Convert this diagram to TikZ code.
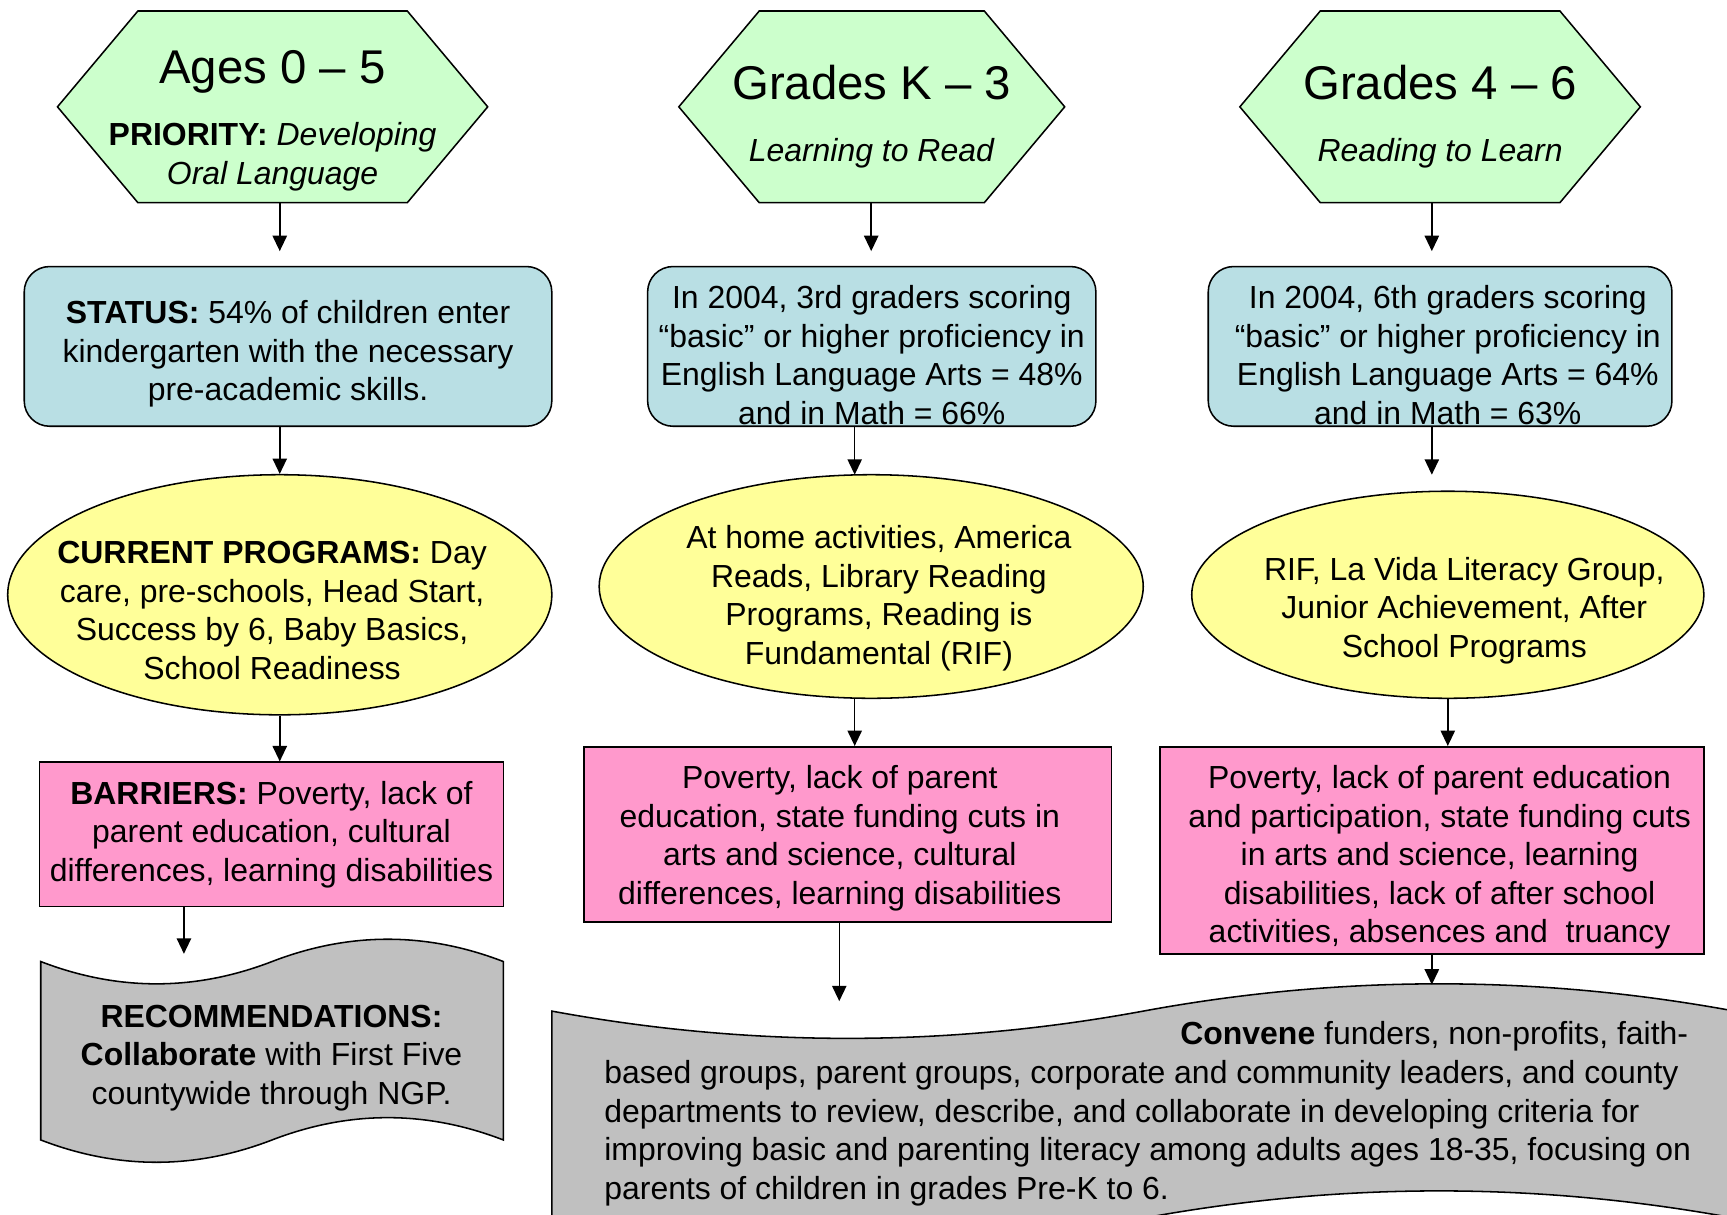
\documentclass[tikz,border=0pt]{standalone}
\usepackage{fontspec}
\setmainfont{Liberation Sans}
\usepackage{xcolor}
\usepackage{tikz}
\usetikzlibrary{shapes,arrows.meta}

\definecolor{hexgreen}{HTML}{CCFFCC}
\definecolor{statblue}{HTML}{B9DFE4}
\definecolor{progyellow}{HTML}{FFFF99}
\definecolor{barpink}{HTML}{FF99CC}
\definecolor{recgray}{HTML}{C0C0C0}

\newcommand{\lift}[1]{\rule{0pt}{#1}}
\newcommand{\nudge}[1]{\hspace*{#1}}
\newcommand{\titlefont}{\fontsize{43}{50}\selectfont}

\begin{document}
\begin{tikzpicture}[x=1pt, y=-1pt, line width=1.4pt,
    font=\fontsize{29}{35}\selectfont,
    hexbox/.style={signal, signal to=east and west, signal pointer angle=100, draw, fill=hexgreen, align=center, inner ysep=0pt, minimum height=174pt},
    statbox/.style={rectangle, draw, fill=statblue, rounded corners=23pt, align=center, inner sep=0pt, minimum height=145pt},
    progbox/.style={ellipse, draw, fill=progyellow, align=center, inner xsep=-40pt, inner ysep=-10pt},
    barbox/.style={rectangle, draw, fill=barpink, align=center, inner sep=0pt},
    wave/.style={draw, fill=recgray},
    arrow/.style={-{Triangle[length=14pt, width=13pt]}, line width=1.4pt}]

    \useasboundingbox (0,0) rectangle (1568,1103);
    \clip (0,0) rectangle (1568,1103);

    \node[hexbox, inner xsep=-26.5pt] (hexA) at (247.5,97) {\lift{55pt}{\titlefont Ages 0 – 5}\\[22pt]\textbf{PRIORITY:} \textit{Developing}\\\textit{Oral Language}};
    \node[hexbox, inner xsep=-24.5pt] (hexB) at (791.5,97) {\lift{49pt}{\titlefont Grades K – 3}\\[21pt]\textit{Learning to Read}};
    \node[hexbox, inner xsep=-15.5pt] (hexC) at (1307.5,97) {\lift{49pt}{\titlefont Grades 4 – 6}\\[21pt]\textit{Reading to Learn}};

    \node[statbox, minimum width=479pt] (statA) at (261.5,314.5) {\lift{35pt}\textbf{STATUS:} 54\% of children enter\\kindergarten with the necessary\\pre-academic skills.};
    \node[statbox, minimum width=407pt] (statB) at (791.5,314.5) {\lift{37pt}In 2004, 3rd graders scoring\\“basic” or higher proficiency in\\English Language Arts = 48\%\\and in Math = 66\%};
    \node[statbox, minimum width=421pt] (statC) at (1307.5,314.5) {\lift{37pt}\nudge{14pt}In 2004, 6th graders scoring\\\nudge{14pt}“basic” or higher proficiency in\\\nudge{14pt}English Language Arts = 64\%\\\nudge{14pt}and in Math = 63\%};

    \node[progbox, minimum width=494pt, minimum height=218pt] (progA) at (254,540) {\lift{49pt}\nudge{-14pt}\textbf{CURRENT PROGRAMS:} Day\\\nudge{-14pt}care, pre-schools, Head Start,\\\nudge{-14pt}Success by 6, Baby Basics,\\\nudge{-14pt}School Readiness};
    \node[progbox, minimum width=494pt, minimum height=203pt] (progB) at (791,532.5) {\lift{42pt}\nudge{14pt}At home activities, America\\\nudge{14pt}Reads, Library Reading\\\nudge{14pt}Programs, Reading is\\\nudge{14pt}Fundamental (RIF)};
    \node[progbox, minimum width=465pt, minimum height=188pt] (progC) at (1314.5,540) {\lift{50pt}\nudge{30pt}RIF, La Vida Literacy Group,\\\nudge{30pt}Junior Achievement, After\\\nudge{30pt}School Programs};

    \node[barbox, minimum width=421pt, minimum height=131pt] (barA) at (246.5,757.5) {\textbf{BARRIERS:} Poverty, lack of\\parent education, cultural\\differences, learning disabilities};
    \node[barbox, minimum width=479pt, minimum height=159pt] (barB) at (769.5,757.5) {\lift{28pt}\nudge{-14pt}Poverty, lack of parent\\\nudge{-14pt}education, state funding cuts in\\\nudge{-14pt}arts and science, cultural\\\nudge{-14pt}differences, learning disabilities};
    \node[barbox, minimum width=494pt, minimum height=188pt] (barC) at (1300,772) {\lift{34pt}\nudge{14pt}Poverty, lack of parent education\\\nudge{14pt}and participation, state funding cuts\\\nudge{14pt}in arts and science, learning\\\nudge{14pt}disabilities, lack of after school\\\nudge{14pt}activities, absences and\ \ truancy};

    \draw[wave] (37,873) .. controls (107,900) and (177,900) .. (247,873) .. controls (317,846) and (387,846) .. (457,873) -- (457,1035) .. controls (387,1008) and (317,1008) .. (247,1035) .. controls (177,1062) and (107,1062) .. (37,1035) -- cycle;
    \node[align=center] (recA) at (246.5,960.5) {\textbf{RECOMMENDATIONS:}\\\textbf{Collaborate} with First Five\\countywide through NGP.};

    \draw[wave] (501,918) .. controls (680,951) and (859,951) .. (1038,918) .. controls (1217,885) and (1396,885) .. (1575,918) -- (1575,1106) .. controls (1396,1073) and (1217,1073) .. (1038,1106) .. controls (859,1139) and (680,1139) .. (501,1106) -- cycle;
    \node[align=left, anchor=north west, inner sep=0pt] (recB) at (548,927) {\hspace*{523pt}\textbf{Convene} funders, non-profits, faith-\\based groups, parent groups, corporate and community leaders, and county\\departments to review, describe, and collaborate in developing criteria for\\improving basic and parenting literacy among adults ages 18-35, focusing on\\parents of children in grades Pre-K to 6.};

    \coordinate (tipA1) at (254,228);
    \coordinate (tipA4) at (167,866);
    \coordinate (tipB1) at (791,228);
    \coordinate (tipB2) at (776,431);
    \coordinate (tipB4) at (762,909);
    \coordinate (tipC1) at (1300,228);
    \coordinate (tipC2) at (1300,431);
    \coordinate (tipC4) at (1300,894);

    \draw[arrow] (hexA.south -| tipA1) -- (tipA1);
    \draw[arrow] (statA.south -| progA.north) -- (progA.north);
    \draw[arrow] (progA.south) -- (progA.south |- barA.north);
    \draw[arrow] (barA.south -| tipA4) -- (tipA4);
    \draw[arrow] (hexB.south -| tipB1) -- (tipB1);
    \draw[arrow] (statB.south -| tipB2) -- (tipB2);
    \draw[arrow] (progB.south -| tipB2) -- (barB.north -| tipB2);
    \draw[arrow] (barB.south -| tipB4) -- (tipB4);
    \draw[arrow] (hexC.south -| tipC1) -- (tipC1);
    \draw[arrow] (statC.south -| tipC2) -- (tipC2);
    \draw[arrow] (progC.south) -- (progC.south |- barC.north);
    \draw[arrow] (barC.south -| tipC4) -- (tipC4);
\end{tikzpicture}
\end{document}
